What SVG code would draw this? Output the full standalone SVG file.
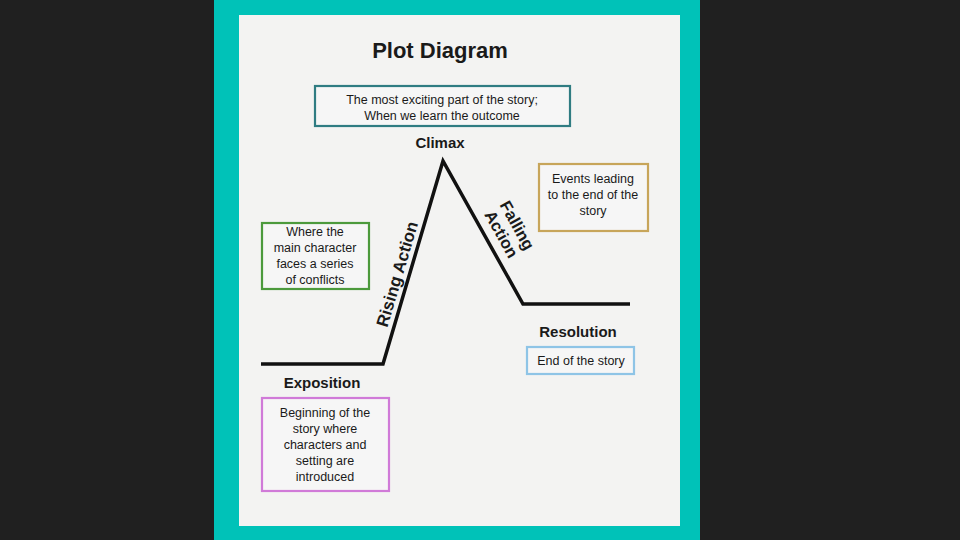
<svg xmlns="http://www.w3.org/2000/svg" width="960" height="540" viewBox="0 0 960 540">
<style>
.t{font-family:"Liberation Sans",Arial,sans-serif;fill:#1a1a1a;text-anchor:middle}
.s{font-size:12.5px}
.h{font-size:15px;font-weight:bold}
.box{fill:#f6f6f6;stroke-width:2.2}
</style>
<rect width="960" height="540" fill="#202020"/>
<rect x="214" y="0" width="486" height="540" fill="#00c2b8"/>
<rect x="239" y="15" width="441" height="511" fill="#f3f3f2"/>
<text class="t" x="440" y="58" font-size="22" font-weight="bold">Plot Diagram</text>
<g id="connectors">
<polyline points="261,364 383,364 443,161 523,304 630,304" fill="none" stroke="#111" stroke-width="3.5" stroke-linejoin="miter"/>
</g>
<g id="climax">
<rect class="box" x="315" y="86" width="255" height="40" stroke="#2f7c82"/>
<text class="t s" x="442" y="104">The most exciting part of the story;</text>
<text class="t s" x="442" y="120">When we learn the outcome</text>
<text class="t h" x="440" y="148">Climax</text>
</g>
<g id="rising">
<rect class="box" x="262" y="223" width="107" height="66" stroke="#4c9a3c"/>
<text class="t s" x="315" y="236">Where the</text>
<text class="t s" x="315" y="252">main character</text>
<text class="t s" x="315" y="268">faces a series</text>
<text class="t s" x="315" y="284">of conflicts</text>
<text class="t" x="397" y="280" font-size="17" font-weight="bold" transform="rotate(-73.5 397 274)">Rising Action</text>
</g>
<g id="falling">
<rect class="box" x="539" y="164" width="109" height="67" stroke="#c7a55a"/>
<text class="t s" x="593" y="183">Events leading</text>
<text class="t s" x="593" y="199">to the end of the</text>
<text class="t s" x="593" y="215">story</text>
<g transform="rotate(60.8 507 231)">
<text class="t" x="507" y="225" font-size="16.5" font-weight="bold">Falling</text>
<text class="t" x="507" y="243" font-size="16.5" font-weight="bold">Action</text>
</g>
</g>
<g id="resolution">
<text class="t h" x="578" y="337">Resolution</text>
<rect class="box" x="527" y="347" width="107" height="27" stroke="#8ec4e6"/>
<text class="t s" x="581" y="365">End of the story</text>
</g>
<g id="exposition">
<text class="t h" x="322" y="388">Exposition</text>
<rect class="box" x="262" y="398" width="127" height="93" stroke="#d07ad8"/>
<text class="t s" x="325" y="417">Beginning of the</text>
<text class="t s" x="325" y="433">story where</text>
<text class="t s" x="325" y="449">characters and</text>
<text class="t s" x="325" y="465">setting are</text>
<text class="t s" x="325" y="481">introduced</text>
</g>
</svg>
